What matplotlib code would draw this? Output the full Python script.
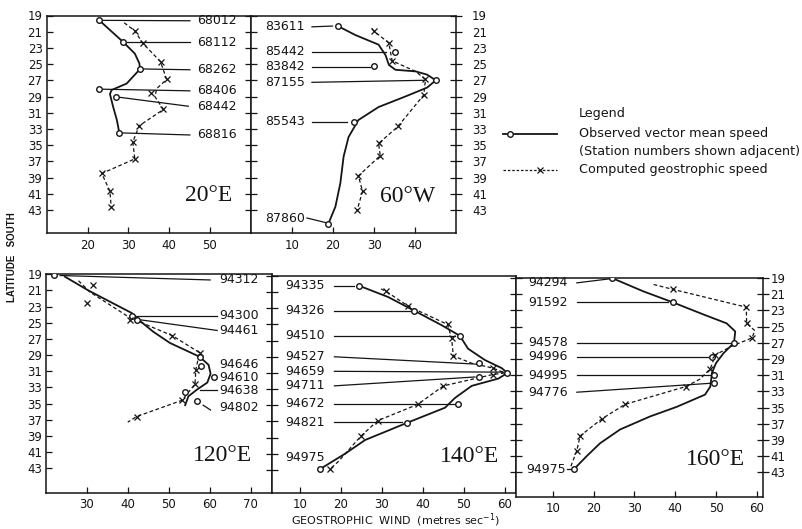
import matplotlib
matplotlib.use("Agg")
import matplotlib.pyplot as plt
from matplotlib.lines import Line2D

W, H = 802, 529
INK = "#151515"

# ---- 20 deg E ----
e20_obs_line_spd = [22.9, 28.8, 31.6, 32.7, 32.9, 29.6, 25.9, 25.5, 26.3, 27.2, 27.8]
e20_obs_line_lat = [19.6, 22.3, 23.7, 24.9, 25.6, 27.4, 28.2, 28.7, 30.3, 31.9, 33.5]
e20_stations = ["68012", "68112", "68262", "68406", "68442", "68816"]
e20_obs_spd = [22.9, 28.8, 32.9, 22.9, 27.0, 27.8]
e20_obs_lat = [19.6, 22.3, 25.6, 28.1, 29.1, 33.5]
e20_label_lat = [19.65, 22.3, 25.7, 28.3, 30.2, 33.75]
e20_lead_end = [45.1, 45.1, 45.1, 45.1, 44.7, 45.1]
e20_geo_line_spd = [29.0, 31.6, 33.5, 37.9, 39.4, 37.0, 36.5, 38.6, 32.7, 31.1, 31.6, 23.5, 25.5, 25.8]
e20_geo_line_lat = [19.9, 20.9, 22.4, 24.7, 26.9, 28.0, 29.0, 30.6, 32.6, 34.6, 36.7, 38.5, 40.7, 42.6]
e20_geo_spd = [31.6, 33.5, 37.9, 39.4, 35.6, 38.6, 32.7, 31.1, 31.6, 23.5, 25.5, 25.8]
e20_geo_lat = [20.9, 22.4, 24.7, 26.9, 28.6, 30.6, 32.6, 34.6, 36.7, 38.5, 40.7, 42.6]

# ---- 60 deg W ----
w60_obs_line_spd = [21.2, 25.4, 31.1, 32.8, 33.6, 35.2, 40.1, 42.9, 45.0, 42.9, 37.6, 31.1, 26.2, 23.8, 22.6, 21.8, 20.6, 18.9]
w60_obs_line_lat = [20.3, 21.4, 22.6, 23.9, 25.1, 25.7, 25.9, 26.3, 27.0, 27.9, 29.0, 30.3, 31.9, 34.0, 36.4, 39.7, 42.6, 44.7]
w60_stations = ["83611", "85442", "83842", "87155", "85543", "87860"]
w60_obs_spd = [21.2, 35.2, 30.1, 45.0, 25.0, 18.9]
w60_obs_lat = [20.3, 23.5, 25.2, 27.0, 32.1, 44.7]
w60_label_lat = [20.4, 23.5, 25.3, 27.25, 32.1, 44.0]
w60_lead_end = [19.9, 32.8, 29.1, 42.1, 23.4, 18.5]
w60_lead_end_lat = [20.3, 23.5, 25.3, 27.0, 32.1, 44.6]
w60_geo_line_spd = [29.5, 29.9, 33.6, 34.4, 40.1, 42.5, 42.1, 35.8, 31.1, 31.5, 26.2, 27.2, 25.9]
w60_geo_line_lat = [20.6, 20.9, 22.4, 24.6, 25.9, 26.9, 28.8, 32.7, 34.8, 36.3, 38.8, 40.7, 43.0]
w60_geo_spd = [29.9, 33.6, 34.4, 42.5, 42.1, 35.8, 31.1, 31.5, 26.2, 27.2, 25.9]
w60_geo_lat = [20.9, 22.4, 24.6, 26.9, 28.8, 32.7, 34.8, 36.3, 38.8, 40.7, 43.0]

# ---- 120 deg E ----
e120_obs_line_spd = [24.7, 30.4, 41.0, 42.6, 46.2, 50.3, 57.5, 59.7, 60.2, 59.4, 56.8, 54.8, 54.0]
e120_obs_line_lat = [19.3, 21.0, 23.8, 24.6, 26.1, 27.5, 29.2, 30.2, 31.3, 32.4, 33.3, 34.1, 35.2]
e120_stations = ["94312", "94300", "94461", "94646", "94610", "94638", "94802"]
e120_obs_spd = [22.1, 41.0, 42.2, 57.5, 57.9, 61.0, 54.0, 56.8]
e120_obs_lat = [19.1, 24.1, 24.6, 29.2, 30.3, 31.7, 33.6, 34.7]
e120_label_lat = [19.7, 24.1, 26.0, 30.2, 31.75, 33.35, 35.5]
e120_geo_line_spd = [28.0, 30.8, 40.6, 50.9, 57.5, 56.6, 56.4, 53.2, 42.2, 40.0]
e120_geo_line_lat = [19.8, 21.2, 24.4, 26.6, 28.7, 30.8, 32.6, 34.6, 36.6, 37.3]
e120_geo_spd = [31.6, 30.0, 40.6, 50.9, 57.5, 56.6, 56.4, 53.2, 42.2]
e120_geo_lat = [20.3, 22.6, 24.7, 26.6, 28.7, 30.8, 32.6, 34.6, 36.6]

# ---- 140 deg E ----
e140_obs_line_spd = [24.4, 31.5, 37.9, 44.6, 49.0, 51.0, 55.1, 59.2, 60.6, 58.4, 51.9, 47.8, 45.4, 36.0, 25.9, 21.0, 14.9]
e140_obs_line_lat = [20.2, 21.6, 23.3, 25.1, 26.4, 28.0, 29.4, 30.4, 31.0, 31.7, 32.6, 34.1, 35.3, 37.2, 39.3, 41.0, 42.9]
e140_stations = ["94335", "94326", "94510", "94527", "94659", "94711", "94672", "94821", "94975"]
e140_obs_spd = [24.4, 37.9, 49.0, 53.7, 60.6, 53.7, 48.6, 36.0, 14.9]
e140_obs_lat = [20.2, 23.3, 26.4, 29.8, 31.0, 31.5, 34.8, 37.2, 42.9]
e140_label_lat = [20.2, 23.3, 26.4, 29.0, 30.8, 32.6, 34.8, 37.1, 41.5]
e140_lead_end = [23.2, 37.2, 47.8, 52.7, 59.6, 52.7, 47.8, 34.8]
e140_lead_end_lat = [20.2, 23.3, 26.4, 29.9, 30.9, 31.5, 34.8, 37.1]
e140_geo_line_spd = [29.8, 31.0, 36.3, 46.0, 47.0, 47.4, 51.9, 57.1, 60.0, 57.0, 45.0, 38.7, 29.0, 24.9, 19.3, 17.3]
e140_geo_line_lat = [20.6, 20.9, 22.7, 25.0, 26.7, 28.9, 29.8, 30.4, 31.0, 31.2, 32.6, 34.9, 36.9, 38.8, 42.0, 42.9]
e140_geo_spd = [31.0, 36.3, 46.0, 47.0, 47.4, 57.1, 57.0, 45.0, 38.7, 29.0, 24.9, 17.3]
e140_geo_lat = [20.9, 22.7, 25.0, 26.7, 28.9, 30.4, 31.2, 32.6, 34.9, 36.9, 38.8, 42.9]

# ---- 160 deg E ----
e160_obs_line_spd = [24.5, 32.2, 39.4, 46.9, 52.6, 54.7, 54.4, 51.8, 50.0, 49.0, 48.6, 47.3, 40.4, 33.8, 26.5, 21.6, 18.3, 15.2]
e160_obs_line_lat = [19.0, 20.65, 22.0, 23.5, 24.6, 25.6, 27.0, 28.3, 29.5, 30.7, 32.4, 33.4, 34.9, 36.1, 37.7, 39.4, 41.0, 42.6]
e160_stations = ["94294", "91592", "94578", "94996", "94995", "94776", "94975"]
e160_obs_spd = [24.5, 39.4, 54.3, 49.1, 49.4, 49.4, 15.2]
e160_obs_lat = [19.0, 22.0, 27.0, 28.7, 31.0, 32.0, 42.6]
e160_label_lat = [19.6, 22.0, 27.0, 28.7, 31.0, 33.1, 42.6]
e160_lead_end = [24.0, 38.3, 53.9, 48.6, 48.6, 48.6]
e160_lead_end_lat = [19.1, 22.0, 27.0, 28.7, 31.0, 32.0]
e160_geo_line_spd = [34.7, 39.4, 57.4, 57.5, 59.5, 58.8, 53.9, 49.8, 48.6, 46.0, 42.6, 27.7, 22.0, 16.7, 15.9, 14.4]
e160_geo_line_lat = [19.8, 20.4, 22.6, 24.6, 25.5, 26.4, 27.4, 28.5, 30.2, 31.5, 32.4, 34.6, 36.4, 38.5, 40.3, 42.3]
e160_geo_spd = [39.4, 57.4, 57.5, 58.8, 49.8, 48.6, 42.6, 27.7, 22.0, 16.7, 15.9]
e160_geo_lat = [20.4, 22.6, 24.6, 26.4, 28.5, 30.2, 32.4, 34.6, 36.4, 38.5, 40.3]

lat_ticks = list(range(19, 45, 2))

fig = plt.figure(figsize=(W / 100, H / 100), dpi=100)


def rect(x0, y0, x1, y1):
    return [x0 / W, 1 - y1 / H, (x1 - x0) / W, (y1 - y0) / H]


def setup(ax, xlim, ylim, xticks, left="in", labels="left"):
    ax.set_xlim(*xlim)
    ax.set_ylim(*ylim)
    ax.set_xticks(xticks)
    ax.set_yticks(lat_ticks)
    for s in ax.spines.values():
        s.set_linewidth(1.1)
        s.set_color(INK)
    ax.tick_params(axis="x", direction="in", length=4.5, width=0.9, pad=4,
                   labelsize=8.5, colors=INK, top=False)
    ax.tick_params(axis="y", which="both", width=0.9, labelsize=8.5, colors=INK)
    ax.yaxis.set_ticks_position("none")
    if left:
        ax.tick_params(axis="y", left=True, direction=left,
                       length=8.6 if left == "inout" else 4.3)
    ax.tick_params(axis="y", labelleft=(labels == "left"), labelright=(labels == "right"), pad=3)


def curves(ax, ol_x, ol_y, o_x, o_y, gl_x, gl_y, g_x, g_y):
    ax.plot(ol_x, ol_y, "-", color=INK, lw=1.3, zorder=3)
    ax.plot(o_x, o_y, "o", ms=4, mfc="white", mec=INK, mew=1.0, zorder=4)
    ax.plot(gl_x, gl_y, color=INK, lw=0.9, ls=(0, (3, 2)), zorder=3)
    ax.plot(g_x, g_y, "x", ms=4, mec=INK, mew=0.9, zorder=4)


def label(ax, x, y, s, ha="left"):
    ax.text(x, y, s, fontsize=9, color=INK, ha=ha, va="center", family="DejaVu Sans")


def leader(ax, x0, y0, x1, y1):
    ax.plot([x0, x1], [y0, y1], color=INK, lw=0.9, zorder=2)


def panel_name(ax, x, y, s):
    ax.text(x, y, s, transform=ax.transAxes, fontsize=17, family="Liberation Serif",
            color=INK, ha="center", va="center")


# 20 E
ax1 = fig.add_axes(rect(46.7, 15.5, 250.7, 233))
setup(ax1, (10, 60), (45.85, 19), [20, 30, 40, 50], left="in")
curves(ax1, e20_obs_line_spd, e20_obs_line_lat, e20_obs_spd, e20_obs_lat,
       e20_geo_line_spd, e20_geo_line_lat, e20_geo_spd, e20_geo_lat)
for st, sx, sy, ly, le in zip(e20_stations, e20_obs_spd, e20_obs_lat, e20_label_lat, e20_lead_end):
    leader(ax1, sx + 0.9, sy, le, ly)
    label(ax1, 46.8, ly, st)
panel_name(ax1, 0.796, 0.171, "20°E")

# 60 W
ax2 = fig.add_axes(rect(250.7, 15.5, 456.3, 233))
setup(ax2, (0, 50), (45.85, 19), [10, 20, 30, 40], left="inout", labels="right")
ax2.tick_params(axis="y", right=True, direction="in", length=4.3, pad=7)
ax2.tick_params(axis="y", left=True, direction="inout", length=8.6)
curves(ax2, w60_obs_line_spd, w60_obs_line_lat, w60_obs_spd, w60_obs_lat,
       w60_geo_line_spd, w60_geo_line_lat, w60_geo_spd, w60_geo_lat)
for i, st in enumerate(w60_stations):
    start = 14.9 if i < 5 else 13.7
    leader(ax2, start, w60_label_lat[i], w60_lead_end[i], w60_lead_end_lat[i])
    label(ax2, 3.5, w60_label_lat[i], st)
panel_name(ax2, 0.763, 0.170, "60°W")

# 120 E
ax3 = fig.add_axes(rect(45.7, 274.3, 271.7, 492.7))
setup(ax3, (20, 75.1), (46.03, 19), [30, 40, 50, 60, 70], left="in")
ax3.tick_params(axis="y", pad=2.5)
ax3.tick_params(axis="x", pad=3.5)
curves(ax3, e120_obs_line_spd, e120_obs_line_lat, e120_obs_spd, e120_obs_lat,
       e120_geo_line_spd, e120_geo_line_lat, e120_geo_spd, e120_geo_lat)
leader(ax3, 23.5, 19.15, 60.1, 19.7)
leader(ax3, 42.0, 24.1, 61.8, 24.1)
leader(ax3, 43.3, 24.65, 61.8, 25.95)
leader(ax3, 57.5, 33.35, 61.7, 33.35)
leader(ax3, 58.4, 35.2, 60.2, 35.8)
for st, ly in zip(e120_stations, e120_label_lat):
    label(ax3, 62.4, ly, st)
panel_name(ax3, 0.781, 0.169, "120°E")

# 140 E
ax4 = fig.add_axes(rect(271.7, 276, 516, 493.3))
setup(ax4, (3.1, 62.7), (45.9, 19), [10, 20, 30, 40, 50, 60], left="inout", labels=None)
ax4.tick_params(axis="x", pad=3.5)
curves(ax4, e140_obs_line_spd, e140_obs_line_lat, e140_obs_spd, e140_obs_lat,
       e140_geo_line_spd, e140_geo_line_lat, e140_geo_spd, e140_geo_lat)
for i, st in enumerate(e140_stations):
    if i < len(e140_lead_end):
        leader(ax4, 18.4, e140_label_lat[i], e140_lead_end[i], e140_lead_end_lat[i])
    label(ax4, 6.3, e140_label_lat[i], st)
panel_name(ax4, 0.808, 0.168, "140°E")

# 160 E
ax5 = fig.add_axes(rect(516, 278, 763, 496.7))
setup(ax5, (1.0, 61.5), (46.0, 19), [10, 20, 30, 40, 50, 60], left="inout", labels="right")
ax5.tick_params(axis="y", right=True, direction="inout", length=8.6, pad=1)
ax5.tick_params(axis="x", pad=3.5)
curves(ax5, e160_obs_line_spd, e160_obs_line_lat, e160_obs_spd, e160_obs_lat,
       e160_geo_line_spd, e160_geo_line_lat, e160_geo_spd, e160_geo_lat)
for i, st in enumerate(e160_stations):
    if i < len(e160_lead_end):
        leader(ax5, 15.9, e160_label_lat[i], e160_lead_end[i], e160_lead_end_lat[i])
        label(ax5, 4.0, e160_label_lat[i], st)
    else:
        leader(ax5, 13.4, e160_label_lat[i], 14.6, e160_label_lat[i])
        label(ax5, 3.6, e160_label_lat[i], st)
panel_name(ax5, 0.806, 0.168, "160°E")

# overlay for legend and axis titles, pixel coordinates
ov = fig.add_axes([0, 0, 1, 1], facecolor="none")
ov.set_xlim(0, W)
ov.set_ylim(H, 0)
ov.axis("off")
ov.add_line(Line2D([503, 557], [134, 134], color=INK, lw=1.3))
ov.plot([510], [134], "o", ms=4, mfc="white", mec=INK, mew=1.0)
ov.add_line(Line2D([503, 557], [170, 170], color=INK, lw=0.9, ls=(0, (2, 1.5))))
ov.plot([540], [170], "x", ms=4, mec=INK, mew=0.9)
legend_font = dict(fontsize=9.2, color=INK, family="DejaVu Sans", va="center", ha="left")
ov.text(579, 113, "Legend", **legend_font)
ov.text(579, 134, "Observed vector mean speed", **legend_font)
ov.text(579, 151, "(Station numbers shown adjacent)", **legend_font)
ov.text(579, 170, "Computed geostrophic speed", **legend_font)
ov.text(396, 524.5, "GEOSTROPHIC  WIND  (metres sec$^{-1}$)", fontsize=8, color=INK,
        ha="center", va="baseline", family="DejaVu Sans")
ov.text(12, 257, "LATITUDE   SOUTH", fontsize=7, color=INK, rotation=90, weight="bold",
        ha="center", va="center", family="Liberation Sans")

fig.savefig("out.png", dpi=100)
